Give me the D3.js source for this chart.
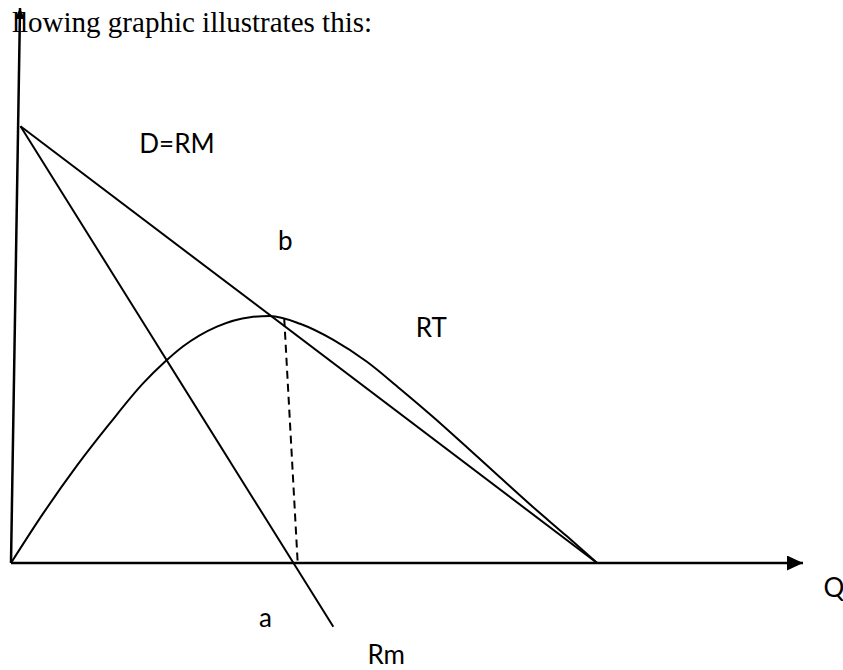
<!DOCTYPE html>
<html>
<head>
<meta charset="utf-8">
<script src="https://cdn.jsdelivr.net/npm/d3@7"></script>
<style>
  html, body { margin: 0; padding: 0; background: #fff; }
  svg { display: block; }
</style>
</head>
<body>
<svg id="chart" width="843" height="670"></svg>
<script>
// Monopoly revenue diagram: demand (average revenue), marginal revenue and total revenue.

// Demand line D = RM: [Q, P] endpoints
const demandLine = [[1.2, 78.7], [74.0, 0]];
// Marginal revenue line Rm (continues below the Q axis)
const marginalLine = [[1.2, 78.7], [40.7, -11.5]];
// Total revenue curve RT
const totalRevenue = [
  [0, 0], [4.0, 8.8], [8.3, 17.5], [12.5, 25.2], [16.7, 32.4], [19.4, 36.2],
  [21.7, 39.0], [26.0, 42.6], [30.2, 44.3], [32.7, 44.5], [36.5, 43.1],
  [40.7, 40.2], [44.9, 36.3], [49.1, 31.4], [53.3, 26.3], [57.6, 20.8],
  [61.7, 15.5], [65.9, 10.1], [70.2, 4.8], [74.0, 0]
];
// Dashed drop line from the RT curve to the Q axis
const dropLine = [[34.5, 44.0], [36.2, 0]];
// Axes
const yAxisLine = [[0, 0], [1.14, 100]];
const xAxisLine = [[0, 0], [100, 0]];
// Text labels: [text, Q, P]
const labels = [
  ["D=RM", 16.2, 73.9],
  ["b", 33.7, 56.4],
  ["RT", 51.1, 40.7],
  ["Q", 102.6, -6.1],
  ["a", 31.3, -11.5],
  ["Rm", 45.0, -18.2]
];
const headline = "llowing graphic illustrates this:";

const svg = d3.select("#chart");

const x = d3.scaleLinear().domain([0, 100]).range([11, 803]);
const y = d3.scaleLinear().domain([0, 100]).range([563, 8]);

const defs = svg.append("defs");
defs.append("marker")
  .attr("id", "arrowX")
  .attr("viewBox", "0 0 16 15")
  .attr("refX", 16).attr("refY", 7.5)
  .attr("markerWidth", 16).attr("markerHeight", 15)
  .attr("markerUnits", "userSpaceOnUse")
  .attr("orient", "auto")
  .append("path").attr("d", "M0,0 L16,7.5 L0,15 Z").attr("fill", "#000");
defs.append("marker")
  .attr("id", "arrowY")
  .attr("viewBox", "0 0 11 10")
  .attr("refX", 11).attr("refY", 5)
  .attr("markerWidth", 11).attr("markerHeight", 10)
  .attr("markerUnits", "userSpaceOnUse")
  .attr("orient", "auto")
  .append("path").attr("d", "M0,0 L11,5 L0,10 Z").attr("fill", "#000");

const straight = d3.line().x(d => x(d[0])).y(d => y(d[1]));
const smooth = d3.line().x(d => x(d[0])).y(d => y(d[1])).curve(d3.curveMonotoneX);

// Headline text (body copy above the figure)
svg.append("text")
  .attr("x", 12).attr("y", 32)
  .attr("font-family", "'Liberation Serif', 'Times New Roman', serif")
  .attr("font-size", 29)
  .attr("fill", "#000")
  .text(headline);

// Axes
svg.append("path").datum(yAxisLine)
  .attr("d", straight).attr("stroke", "#000").attr("stroke-width", 2.5)
  .attr("fill", "none").attr("marker-end", "url(#arrowY)");
svg.append("path").datum(xAxisLine)
  .attr("d", straight).attr("stroke", "#000").attr("stroke-width", 2.5)
  .attr("fill", "none").attr("marker-end", "url(#arrowX)");

// Demand and marginal revenue
svg.append("path").datum(demandLine)
  .attr("d", straight).attr("stroke", "#000").attr("stroke-width", 2).attr("fill", "none");
svg.append("path").datum(marginalLine)
  .attr("d", straight).attr("stroke", "#000").attr("stroke-width", 2).attr("fill", "none");

// Total revenue curve
svg.append("path").datum(totalRevenue)
  .attr("d", smooth)
  .attr("stroke", "#000").attr("stroke-width", 2).attr("fill", "none");

// Dashed drop line
svg.append("path").datum(dropLine)
  .attr("d", straight).attr("stroke", "#000").attr("stroke-width", 2)
  .attr("stroke-dasharray", "8,5").attr("fill", "none");

// Labels
svg.selectAll("text.lbl").data(labels).enter().append("text")
  .attr("class", "lbl")
  .attr("x", d => x(d[1])).attr("y", d => y(d[2]))
  .attr("font-family", "Lato, 'Open Sans', sans-serif")
  .attr("font-size", 26)
  .attr("fill", "#000")
  .text(d => d[0]);
</script>
</body>
</html>
